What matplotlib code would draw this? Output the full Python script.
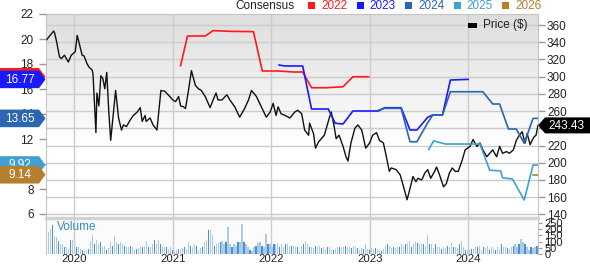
import numpy as np
import matplotlib
matplotlib.use('Agg')
import matplotlib.pyplot as plt
from matplotlib.patches import Polygon, Rectangle
from matplotlib.transforms import IdentityTransform

plt.rcParams['font.family'] = ['Liberation Sans', 'DejaVu Sans']

# price ($), right axis - dates in decimal years
price_t = [2019.72, 2019.79, 2019.80, 2019.82, 2019.85, 2019.87, 2019.90, 2019.94, 2019.97, 2020.01,
           2020.03, 2020.08, 2020.10, 2020.13, 2020.15, 2020.18, 2020.19, 2020.22, 2020.23, 2020.25,
           2020.27, 2020.29, 2020.31, 2020.33, 2020.35, 2020.37, 2020.42, 2020.45, 2020.48, 2020.50,
           2020.53, 2020.57, 2020.60, 2020.64, 2020.67, 2020.69, 2020.72, 2020.73, 2020.77, 2020.80,
           2020.84, 2020.88, 2020.92, 2020.97, 2021.00, 2021.03, 2021.06, 2021.08, 2021.11, 2021.13,
           2021.16, 2021.19, 2021.23, 2021.26, 2021.29, 2021.33, 2021.38, 2021.41, 2021.44, 2021.46,
           2021.50, 2021.55, 2021.58, 2021.63, 2021.68, 2021.73, 2021.77, 2021.80, 2021.85, 2021.90,
           2021.95, 2021.99, 2022.02, 2022.05, 2022.07, 2022.10, 2022.14, 2022.19, 2022.24, 2022.27,
           2022.31, 2022.34, 2022.38, 2022.39, 2022.43, 2022.45, 2022.48, 2022.51, 2022.54, 2022.56,
           2022.59, 2022.61, 2022.64, 2022.66, 2022.69, 2022.73, 2022.76, 2022.78, 2022.81, 2022.85,
           2022.88, 2022.92, 2022.96, 2023.00, 2023.03, 2023.07, 2023.10, 2023.14, 2023.17, 2023.20,
           2023.22, 2023.27, 2023.31, 2023.34, 2023.38, 2023.41, 2023.44, 2023.47, 2023.49, 2023.53,
           2023.56, 2023.59, 2023.62, 2023.66, 2023.68, 2023.71, 2023.75, 2023.78, 2023.81, 2023.84,
           2023.87, 2023.90, 2023.94, 2023.97, 2024.02, 2024.05, 2024.09, 2024.12, 2024.15, 2024.19,
           2024.22, 2024.25, 2024.29, 2024.32, 2024.35, 2024.39, 2024.42, 2024.46, 2024.49, 2024.52,
           2024.55, 2024.57, 2024.58, 2024.60, 2024.63, 2024.65, 2024.67, 2024.69, 2024.71]
price_v = [343, 353, 351, 341, 323, 321, 325, 317, 325, 329,
           348, 325, 324, 315, 311, 308, 304, 235, 281, 266,
           301, 298, 286, 305, 261, 226, 284, 252, 238, 244,
           242, 250, 255, 259, 264, 248, 255, 248, 252, 244,
           238, 284, 283, 277, 273, 271, 277, 266, 265, 263,
           284, 307, 290, 286, 284, 277, 264, 273, 281, 273,
           273, 279, 273, 265, 253, 263, 273, 284, 277, 265,
           253, 259, 269, 255, 265, 257, 255, 252, 259, 261,
           257, 238, 232, 246, 234, 217, 224, 228, 232, 240,
           252, 259, 242, 228, 232, 219, 207, 202, 223, 240,
           244, 238, 217, 223, 232, 235, 226, 223, 207, 190,
           194, 192, 186, 174, 157, 170, 184, 178, 182, 180,
           188, 192, 182, 190, 195, 186, 172, 176, 188, 194,
           190, 190, 203, 215, 219, 227, 219, 223, 215, 207,
           211, 215, 207, 219, 211, 213, 211, 215, 226, 232,
           236, 226, 223, 234, 221, 226, 230, 232, 243.43]

# consensus EPS estimates, left axis
c2022_t = [2021.08, 2021.15, 2021.33, 2021.41, 2021.60, 2021.82, 2021.91, 2022.07, 2022.23, 2022.32,
           2022.41, 2022.56, 2022.73, 2022.83, 2022.99]
c2022_v = [17.87, 20.24, 20.24, 20.67, 20.61, 20.59, 17.44, 17.44, 17.36, 17.36,
           16.10, 16.10, 16.18, 16.98, 16.98]
c2023_t = [2022.08, 2022.14, 2022.32, 2022.41, 2022.58, 2022.65, 2022.73, 2022.83, 2023.09, 2023.15,
           2023.32, 2023.41, 2023.48, 2023.59, 2023.64, 2023.74, 2023.82, 2024.00]
c2023_v = [17.92, 17.84, 17.84, 14.40, 14.40, 13.26, 13.20, 14.24, 14.24, 14.50,
           14.50, 12.72, 12.72, 13.74, 13.92, 13.92, 16.72, 16.77]
c2024_t = [2023.09, 2023.15, 2023.32, 2023.41, 2023.48, 2023.59, 2023.64, 2023.74, 2023.82, 2024.15,
           2024.25, 2024.32, 2024.41, 2024.49, 2024.57, 2024.66, 2024.71]
c2024_v = [14.30, 14.45, 14.45, 11.78, 11.78, 13.30, 13.90, 13.92, 15.78, 15.78,
           14.80, 14.80, 12.80, 12.80, 11.66, 13.65, 13.65]
c2025_t = [2023.60, 2023.65, 2023.77, 2024.12, 2024.22, 2024.33, 2024.35, 2024.45, 2024.57, 2024.66, 2024.71]
c2025_v = [11.15, 11.85, 11.60, 11.60, 9.50, 9.45, 8.90, 8.80, 7.12, 9.92, 9.92]
c2026_t = [2024.66, 2024.71]
c2026_v = [9.14, 9.14]

series_names = ['2022', '2023', '2024', '2025', '2026']
series_colors = ['#ff1a1a', '#1a1aff', '#2a66b2', '#3fa0d4', '#b5802e']
last_eps = [16.98, 16.77, 13.65, 9.92, 9.14]
last_price = 243.43

# weekly volume (approx, chart units)
vol_start, vol_end = 2019.72, 2024.70
volume = [266, 178, 205, 233, 142, 137, 104, 82, 82, 60, 55, 41, 110, 110, 60, 60, 55, 41, 33, 22,
          33, 41, 104, 151, 82, 115, 82, 96, 55, 68, 33, 49, 96, 68, 142, 96, 82, 96, 82, 68,
          60, 60, 68, 60, 41, 41, 49, 60, 55, 68, 104, 60, 55, 82, 115, 82, 115, 82, 60, 55,
          60, 41, 60, 33, 22, 33, 41, 33, 49, 55, 41, 96, 68, 55, 82, 68, 33, 49, 55, 96,
          110, 192, 192, 151, 68, 82, 88, 96, 104, 82, 96, 214, 82, 60, 82, 68, 96, 96, 241, 96,
          82, 55, 33, 27, 55, 68, 88, 96, 68, 55, 164, 82, 82, 60, 77, 82, 88, 60, 82, 60,
          77, 82,
          68, 68, 68, 55, 60, 27, 68, 82, 104, 82, 60, 55, 49, 68, 55, 68, 49, 55, 41, 60,
          60, 33, 33, 41, 55, 60, 49, 55, 68, 60, 60, 49, 68, 60, 49, 33, 49, 41, 77, 41,
          33, 49, 41, 49, 41, 27, 27, 41, 68, 82, 68, 49, 60, 49, 60, 55, 82, 68, 82, 88,
          104, 60, 82, 96, 88, 82, 77, 82, 68, 151, 82, 77, 49, 82, 60, 55, 41, 60, 49, 68,
          55, 88, 55, 55, 49, 82, 104, 60, 33, 33, 33, 41, 41, 55, 60, 68, 33, 60, 49, 68,
          33, 55, 41, 33, 55, 41, 82, 60, 55, 49, 41, 55, 68, 82, 60, 77, 123, 96, 82, 55,
          33, 55, 49, 60, 68]

years = [2020, 2021, 2022, 2023, 2024]
eps_ticks = [6, 8, 10, 12, 14, 16, 18, 20, 22]
price_ticks = list(range(140, 361, 20))
vol_ticks = [0, 50, 100, 150, 200, 250]

W, H = 590, 265
fig = plt.figure(figsize=(W / 100, H / 100), dpi=100)
fs = 8.5
xlim = (2019.713, 2024.71)
grid_c = '#cccccc'
tick_c = '#999999'
txt_c = '#222222'

# price panel (grid + price line), right axis
ax = fig.add_axes([46 / W, 1 - 218 / H, 492 / W, 204 / H])
ax.set_xlim(*xlim)
ax.set_ylim(135.85, 372.8)
grad = np.linspace(0, 1, 256).reshape(-1, 1)
grad = np.clip(grad / 0.65, 0, 1)
ax.imshow(grad, extent=[0, 1, 0, 1], transform=ax.transAxes, aspect='auto',
          cmap=matplotlib.colors.LinearSegmentedColormap.from_list('g', ['#dedede', '#ffffff']),
          origin='upper', zorder=0)
ax.set_yticks(price_ticks)
ax.set_xticks(years)
ax.grid(True, color=grid_c, lw=1, zorder=1)
ax.set_axisbelow(True)
ax.yaxis.tick_right()
ax.tick_params(axis='y', length=5, width=1, color=tick_c, pad=1.5, labelsize=fs, labelcolor=txt_c)
ax.tick_params(axis='x', length=0, labelbottom=False)
for s in ax.spines.values():
    s.set_color('#c4c4c4')
ax.plot(price_t, price_v, color='#111111', lw=1.0, zorder=3)

# EPS panel on top, left axis
axe = fig.add_axes(ax.get_position())
axe.patch.set_alpha(0)
axe.set_xlim(*xlim)
axe.set_ylim(5.68, 22)
axe.set_yticks(eps_ticks)
axe.set_xticks([])
axe.tick_params(axis='y', length=5, width=1, color=tick_c, pad=4, labelsize=fs, labelcolor=txt_c)
for s in axe.spines.values():
    s.set_visible(False)
all_t = [c2022_t, c2023_t, c2024_t, c2025_t, c2026_t]
all_v = [c2022_v, c2023_v, c2024_v, c2025_v, c2026_v]
for t, v, c in zip(all_t, all_v, series_colors):
    axe.plot(t, v, color=c, lw=1.2, zorder=4)

# volume panel
axv = fig.add_axes([46 / W, 1 - 254 / H, 492 / W, 36 / H])
axv.set_facecolor('#fbfbfb')
axv.set_xlim(*xlim)
axv.set_ylim(0, 290)
vt = np.linspace(vol_start, vol_end, len(volume))
vcols = ['#4f8fcf' if i % 3 == 0 else '#a9cbea' for i in range(len(volume))]
axv.bar(vt, volume, width=0.012, color=vcols, zorder=2)
axv.set_xticks(years)
axv.set_xticklabels([str(y) for y in years])
axv.grid(True, axis='x', color=grid_c, lw=1, zorder=1)
axv.set_axisbelow(True)
axv.yaxis.tick_right()
axv.set_yticks(vol_ticks)
axv.tick_params(axis='y', length=3, width=0.8, color=tick_c, pad=1.5, labelsize=8, labelcolor=txt_c)
axv.tick_params(axis='x', length=0, pad=0.3, labelsize=8.2, labelcolor=txt_c)
for s in axv.spines.values():
    s.set_visible(False)
axv.spines['top'].set_visible(True)
axv.spines['top'].set_color('#d2d2d2')
axv.spines['top'].set_linewidth(2.5)
axv.spines['right'].set_visible(True)
axv.spines['right'].set_color('#c4c4c4')
axv.spines['left'].set_visible(True)
axv.spines['left'].set_color('#c4c4c4')
axv.text(0.022, 0.68, 'Volume', transform=axv.transAxes, color='#3a87c8', fontsize=fs)

ident = IdentityTransform()


def left_tag(val, text, color, z):
    y = axe.transData.transform((xlim[0], val))[1]
    h = 8.8
    verts = [(0, y - h), (39, y - h), (45.5, y), (39, y + h), (0, y + h)]
    fig.add_artist(Polygon(verts, closed=True, transform=ident, fc=color, ec='none', zorder=z))
    fig.text(20, y - 0.5, text, transform=ident, color='white', fontsize=fs,
             ha='center', va='center', zorder=z + 0.5)


for k, (val, c) in enumerate(zip(last_eps, series_colors)):
    left_tag(val, f'{val:.2f}', c, 10 + k)

# right price tag
yp = ax.transData.transform((xlim[1], last_price))[1]
verts = [(538, yp), (545, yp - 8), (590, yp - 8), (590, yp + 8), (545, yp + 8)]
fig.add_artist(Polygon(verts, closed=True, transform=ident, fc='black', ec='none', zorder=20))
fig.text(566, yp - 0.5, f'{last_price:.2f}', transform=ident, color='white', fontsize=fs,
         ha='center', va='center', zorder=21)

# top legend
fig.text(295 / W, 1 - 6 / H, 'Consensus', ha='right', va='center', fontsize=fs, color=txt_c)
for k, (name, c) in enumerate(zip(series_names, series_colors)):
    x0 = 308 + k * 48.5
    fig.add_artist(Rectangle((x0 / W, 1 - 9 / H), 7 / W, 7 / H, transform=fig.transFigure,
                             fc=c, ec='none'))
    fig.text((x0 + 13) / W, 1 - 6 / H, name, ha='left', va='center', fontsize=fs, color=c)

# price legend
fig.add_artist(Rectangle((468 / W, 1 - 27.5 / H), 9 / W, 4.5 / H, transform=fig.transFigure,
                         fc='black', ec='none'))
fig.text(483 / W, 1 - 25 / H, 'Price ($)', ha='left', va='center', fontsize=fs, color=txt_c)

fig.savefig('out.png', dpi=100)
